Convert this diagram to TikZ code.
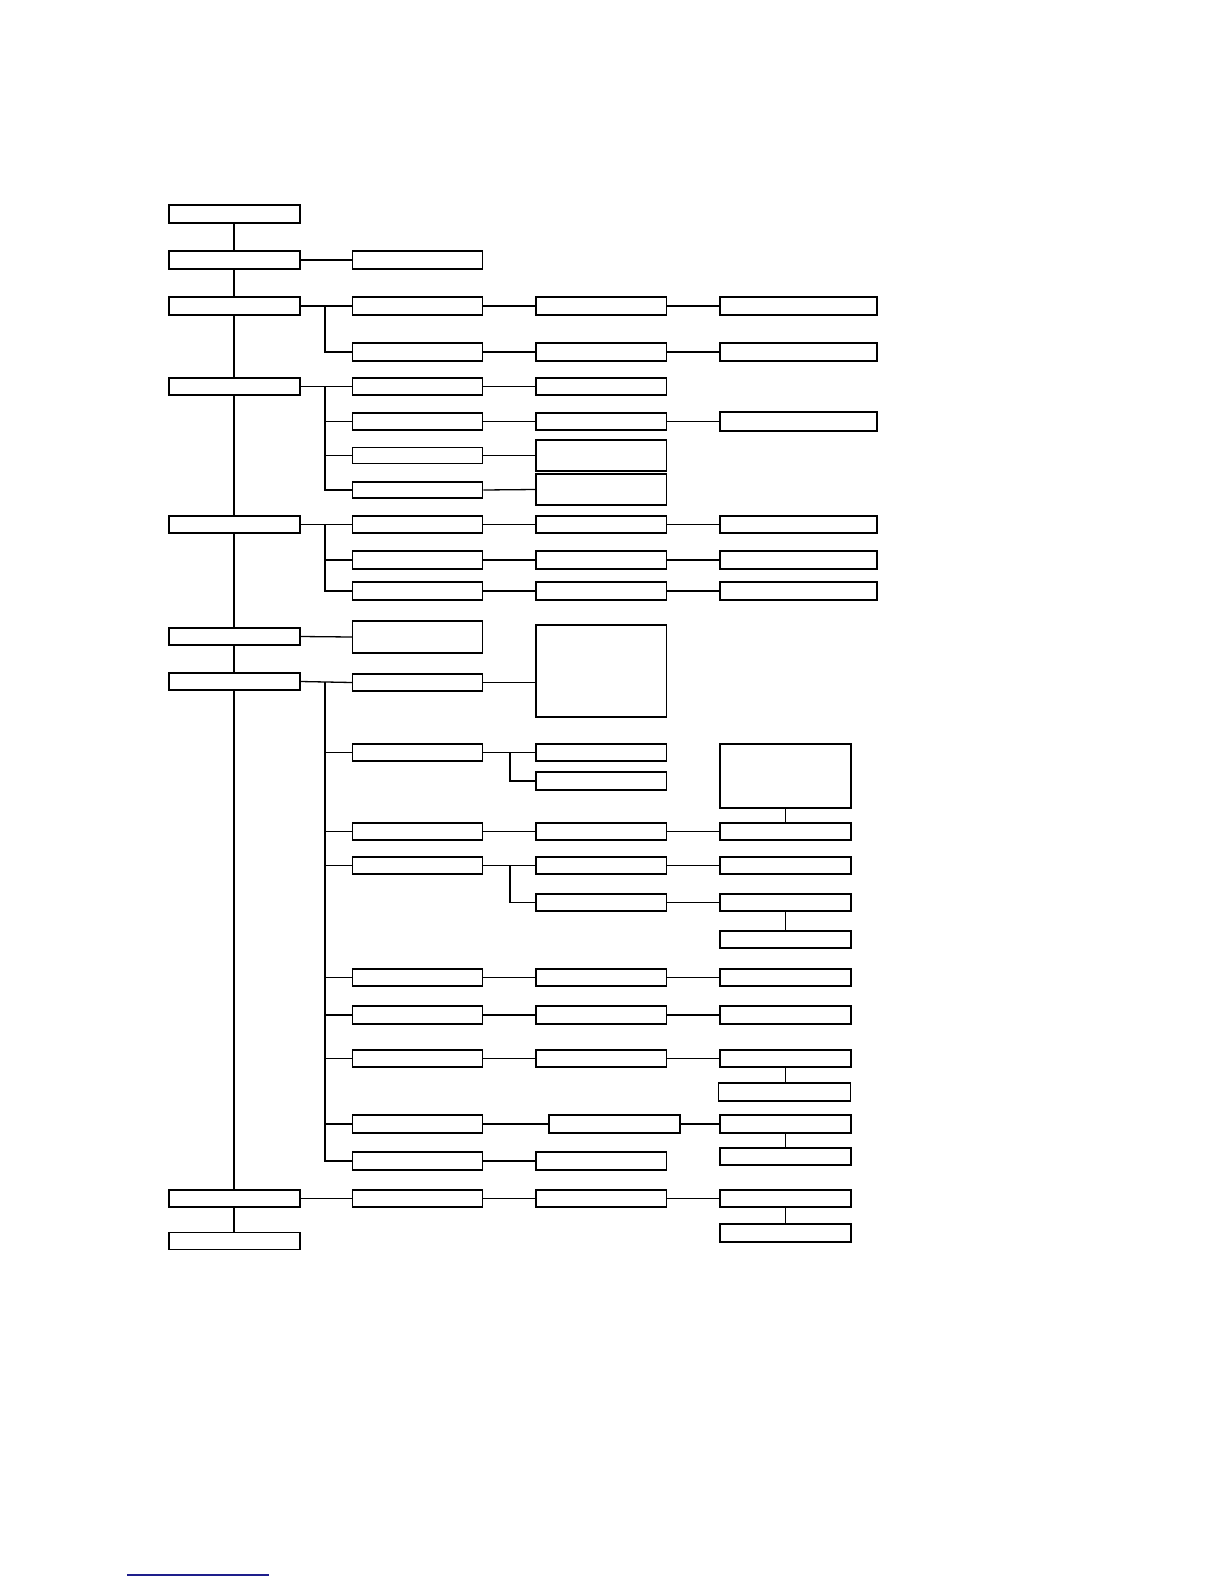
\documentclass[tikz,border=0pt]{standalone}
\begin{document}
\begin{tikzpicture}[x=0.5bp,y=-0.5bp,
  box/.style={draw, line width=0.7bp, inner sep=0pt, minimum width=#1*0.5bp, minimum height=18*0.5bp},
  box/.default=131,
  conn/.style={line width=0.65bp},
  spine/.style={line width=0.95bp},
  brn/.style={line width=0.85bp}]
\useasboundingbox (0,0) rectangle (1224,1584);
\definecolor{linkblue}{RGB}{30,30,140}
% x positions
\def\xa{234.3}
\def\xb{417.6}
\def\xc{601.3}
\def\xcs{614.5}
\def\xdl{798.5}
\def\xds{785.5}
\coordinate (bx) at (325,0);
\coordinate (sbx) at (510,0);
% top-level column
\node[box] (T1) at (\xa,214) {};
\node[box] (T2) at (\xa,260) {};
\node[box] (T3) at (\xa,306) {};
\node[box,minimum height=17*0.5bp] (T4) at (\xa,386.5) {};
\node[box,minimum height=17*0.5bp] (T5) at (\xa,524.5) {};
\node[box,minimum height=17*0.5bp] (T6) at (\xa,636.5) {};
\node[box,minimum height=17*0.5bp] (T7) at (\xa,681.5) {};
\node[box,minimum height=17*0.5bp] (T8) at (\xa,1198.5) {};
\node[box,minimum height=17*0.5bp] (T9) at (\xa,1241) {};
\foreach \a/\b in {T1/T2,T2/T3,T3/T4,T4/T5,T5/T6,T6/T7,T7/T8,T8/T9}
  \draw[spine] (\a.south) -- (\b.north);
% column 2
\node[box=130] (B2) at (\xb,260) {};
\node[box=130] (B3a) at (\xb,306) {};
\node[box=130] (B3b) at (\xb,352) {};
\node[box=130,minimum height=17*0.5bp] (B4a) at (\xb,386.5) {};
\node[box=130,minimum height=17*0.5bp] (B4b) at (\xb,421.5) {};
\node[box=130,minimum height=16*0.5bp] (B4c) at (\xb,455.5) {};
\node[box=130,minimum height=16*0.5bp] (B4d) at (\xb,490) {};
\node[box=130,minimum height=17*0.5bp] (B5a) at (\xb,524.5) {};
\node[box=130] (B5b) at (\xb,560) {};
\node[box=130] (B5c) at (\xb,591) {};
\node[box=130,minimum height=32*0.5bp] (B6) at (\xb,637) {};
\node[box=130,minimum height=17*0.5bp] (B7a) at (\xb,682.5) {};
\node[box=130,minimum height=17*0.5bp] (B7b) at (\xb,752.5) {};
\node[box=130,minimum height=17*0.5bp] (B7c) at (\xb,831.5) {};
\node[box=130,minimum height=17*0.5bp] (B7d) at (\xb,865.5) {};
\node[box=130,minimum height=17*0.5bp] (B7e) at (\xb,977.5) {};
\node[box=130] (B7f) at (\xb,1015) {};
\node[box=130,minimum height=17*0.5bp] (B7g) at (\xb,1058.5) {};
\node[box=130] (B7h) at (\xb,1124) {};
\node[box=130] (B7i) at (\xb,1161) {};
\node[box=130,minimum height=17*0.5bp] (B8) at (\xb,1198.5) {};
% column 3
\node[box=130.5] (C3a) at (\xc,306) {};
\node[box=130.5] (C3b) at (\xc,352) {};
\node[box=130.5,minimum height=17*0.5bp] (C4a) at (\xc,386.5) {};
\node[box=130.5,minimum height=17*0.5bp] (C4b) at (\xc,421.5) {};
\node[box=130.5,minimum height=31*0.5bp] (C4c) at (\xc,455.5) {};
\node[box=130.5,minimum height=31*0.5bp] (C4d) at (\xc,489.5) {};
\node[box=130.5,minimum height=17*0.5bp] (C5a) at (\xc,524.5) {};
\node[box=130.5] (C5b) at (\xc,560) {};
\node[box=130.5] (C5c) at (\xc,591) {};
\node[box=130.5,minimum height=92*0.5bp] (C7a) at (\xc,671) {};
\node[box=130.5,minimum height=17*0.5bp] (C7b1) at (\xc,752.5) {};
\node[box=130.5] (C7b2) at (\xc,781) {};
\node[box=130.5,minimum height=17*0.5bp] (C7c) at (\xc,831.5) {};
\node[box=130.5,minimum height=17*0.5bp] (C7d1) at (\xc,865.5) {};
\node[box=130.5,minimum height=17*0.5bp] (C7d2) at (\xc,902.5) {};
\node[box=130.5,minimum height=17*0.5bp] (C7e) at (\xc,977.5) {};
\node[box=130.5] (C7f) at (\xc,1015) {};
\node[box=130.5,minimum height=17*0.5bp] (C7g) at (\xc,1058.5) {};
\node[box=131] (C7h) at (\xcs,1124) {};
\node[box=130.5] (C7i) at (\xc,1161) {};
\node[box=130.5,minimum height=17*0.5bp] (C8) at (\xc,1198.5) {};
% column 4
\node[box=157] (D3a) at (\xdl,306) {};
\node[box=157] (D3b) at (\xdl,352) {};
\node[box=157,minimum height=19*0.5bp] (D4b) at (\xdl,421.5) {};
\node[box=157,minimum height=17*0.5bp] (D5a) at (\xdl,524.5) {};
\node[box=157] (D5b) at (\xdl,560) {};
\node[box=157] (D5c) at (\xdl,591) {};
\node[box=131,minimum height=64*0.5bp] (D7t) at (\xds,776) {};
\node[box=131,minimum height=17*0.5bp] (D7c) at (\xds,831.5) {};
\node[box=131,minimum height=17*0.5bp] (D7d1) at (\xds,865.5) {};
\node[box=131,minimum height=17*0.5bp] (D7d2) at (\xds,902.5) {};
\node[box=131,minimum height=17*0.5bp] (D7d3) at (\xds,939.5) {};
\node[box=131,minimum height=17*0.5bp] (D7e) at (\xds,977.5) {};
\node[box=131] (D7f) at (\xds,1015) {};
\node[box=131,minimum height=17*0.5bp] (D7g) at (\xds,1058.5) {};
\node[box=132,minimum height=18*0.5bp] (D7g2) at (784.5,1092) {};
\node[box=131] (D7h) at (\xds,1124) {};
\node[box=131,minimum height=17*0.5bp] (D7h2) at (\xds,1156.5) {};
\node[box=131,minimum height=17*0.5bp] (D8) at (\xds,1198.5) {};
\node[box=131] (D8b) at (\xds,1233) {};
% connectors: row 2
\draw[conn] (T2.east) -- (B2.west);
% row 3
\draw[conn] (T3.east) -- (B3a.west);
\draw[brn] (T3.east -| bx) |- (B3b.west);
\draw[conn] (B3a.east) -- (C3a.west);
\draw[conn] (C3a.east) -- (D3a.west);
\draw[conn] (B3b.east) -- (C3b.west);
\draw[conn] (C3b.east) -- (D3b.west);
% row 4
\draw[brn] (T4.east) -- (B4a.west);
\draw[brn] (T4.east -| bx) |- (B4d.west);
\draw[conn] (B4b.west -| bx) -- (B4b.west);
\draw[conn] (B4c.west -| bx) -- (B4c.west);
\draw[conn] (B4a.east) -- (C4a.west);
\draw[conn] (B4b.east) -- (C4b.west);
\draw[conn] (C4b.east) -- (D4b.west);
\draw[conn] (B4c.east) -- (C4c.west);
\draw[conn] (B4d.east) -- (C4d.west);
% row 5
\draw[conn] (T5.east) -- (B5a.west);
\draw[brn] (T5.east -| bx) |- (B5c.west);
\draw[conn] (B5b.west -| bx) -- (B5b.west);
\draw[conn] (B5a.east) -- (C5a.west);
\draw[conn] (C5a.east) -- (D5a.west);
\draw[conn] (B5b.east) -- (C5b.west);
\draw[conn] (C5b.east) -- (D5b.west);
\draw[brn] (B5c.east) -- (C5c.west);
\draw[brn] (C5c.east) -- (D5c.west);
% row 6
\draw[conn] (T6.east) -- (B6.west);
% row 7
\draw[conn] (T7.east) -- (B7a.west);
\draw[brn] (T7.east -| bx) |- (B7i.west);
\foreach \n in {B7b,B7c,B7d,B7e,B7f,B7g,B7h}
  \draw[conn] (\n.west -| bx) -- (\n.west);
\draw[conn] (B7a.east) -- (B7a.east -| C7a.west);
\draw[conn] (B7b.east) -- (C7b1.west);
\draw[brn] (B7b.east -| sbx) |- (C7b2.west);
\draw[conn] (B7c.east) -- (C7c.west);
\draw[conn] (C7c.east) -- (D7c.west);
\draw[conn] (D7t.south) -- (D7c.north);
\draw[conn] (B7d.east) -- (C7d1.west);
\draw[conn] (B7d.east -| sbx) |- (C7d2.west);
\draw[conn] (C7d1.east) -- (D7d1.west);
\draw[conn] (C7d2.east) -- (D7d2.west);
\draw[conn] (D7d2.south) -- (D7d3.north);
\draw[conn] (B7e.east) -- (C7e.west);
\draw[conn] (C7e.east) -- (D7e.west);
\draw[conn] (B7f.east) -- (C7f.west);
\draw[conn] (C7f.east) -- (D7f.west);
\draw[conn] (B7g.east) -- (C7g.west);
\draw[conn] (C7g.east) -- (D7g.west);
\draw[conn] (D7g.south) -- (D7g.south |- D7g2.north);
\draw[conn] (B7h.east) -- (C7h.west);
\draw[conn] (C7h.east) -- (D7h.west);
\draw[conn] (D7h.south) -- (D7h2.north);
\draw[conn] (B7i.east) -- (C7i.west);
% row 8
\draw[conn] (T8.east) -- (B8.west);
\draw[conn] (B8.east) -- (C8.west);
\draw[conn] (C8.east) -- (D8.west);
\draw[conn] (D8.south) -- (D8b.north);
% footer rule
\draw[linkblue, line width=0.6bp] (127,1575) -- (269,1575);
\end{tikzpicture}
\end{document}
